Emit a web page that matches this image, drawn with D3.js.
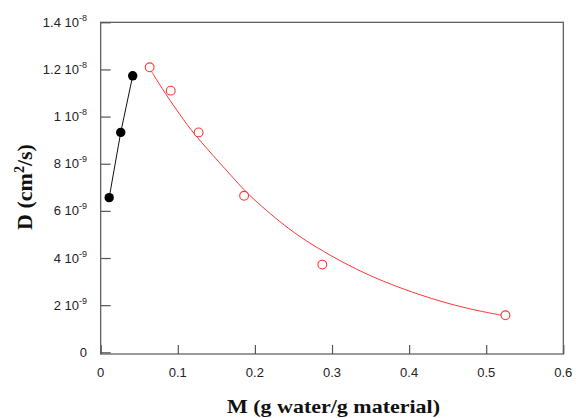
<!DOCTYPE html>
<html>
<head>
<meta charset="utf-8">
<script src="https://cdn.jsdelivr.net/npm/d3@7"></script>
<style>
  html, body { margin: 0; padding: 0; background: #fff; }
  svg { display: block; }
</style>
</head>
<body>
<svg id="chart" width="576" height="418"></svg>
<script>
// Diffusion coefficient vs. moisture content
const moistureLow = [0.011, 0.026, 0.0415];
const diffLow = [6.56e-9, 9.33e-9, 11.73e-9];

const moistureHigh = [0.0635, 0.0908, 0.127, 0.186, 0.2874, 0.525];
const diffHigh = [12.09e-9, 11.1e-9, 9.33e-9, 6.64e-9, 3.72e-9, 1.57e-9];

// Fitted curve through the high-moisture series
const fitM = [0.064, 0.0674, 0.0834, 0.1029, 0.1201, 0.1547, 0.1807, 0.1936, 0.2455, 0.2887, 0.332, 0.3752, 0.4314, 0.4747, 0.5179, 0.525];
const fitD = [12.0e-9, 11.84e-9, 10.99e-9, 10.07e-9, 9.29e-9, 8.02e-9, 7.08e-9, 6.62e-9, 5.15e-9, 4.27e-9, 3.5e-9, 2.88e-9, 2.24e-9, 1.86e-9, 1.58e-9, 1.55e-9];

const xTicks = [0, 0.1, 0.2, 0.3, 0.4, 0.5, 0.6];
const xTickLabels = ["0", "0.1", "0.2", "0.3", "0.4", "0.5", "0.6"];
const yTicks = [0, 2e-9, 4e-9, 6e-9, 8e-9, 1e-8, 1.2e-8, 1.4e-8];
const yTickMantissa = ["0", "2 10", "4 10", "6 10", "8 10", "1 10", "1.2 10", "1.4 10"];
const yTickExponent = ["", "-9", "-9", "-9", "-9", "-8", "-8", "-8"];

const svg = d3.select("#chart");
const plotLeft = 100.7, plotRight = 563.3, plotTop = 22.3, plotBottom = 354;

const x = d3.scaleLinear().domain([0, 0.6]).range([plotLeft, plotRight]);
const y = d3.scaleLinear().domain([0, 1.4e-8]).range([352.3, plotTop]);

const axisColor = "#555";

// frame
svg.append("rect")
  .attr("x", plotLeft).attr("y", plotTop)
  .attr("width", plotRight - plotLeft).attr("height", plotBottom - plotTop)
  .attr("fill", "none").attr("stroke", axisColor).attr("stroke-width", 1.2);

// x axis ticks (inward)
const gx = svg.append("g").attr("transform", `translate(0,${plotBottom})`)
  .call(d3.axisBottom(x).tickValues(xTicks).tickSizeInner(-9).tickSizeOuter(0).tickFormat(""));
gx.select(".domain").remove();
gx.selectAll(".tick line").attr("stroke", axisColor).attr("stroke-width", 1.2);

svg.append("g").selectAll("text").data(xTicks).join("text")
  .attr("x", d => x(d)).attr("y", 376.5)
  .attr("text-anchor", "middle")
  .attr("font-family", "Liberation Sans, Arial, sans-serif")
  .attr("font-size", 13).attr("fill", "#222")
  .text((d, i) => xTickLabels[i]);

// y axis ticks (inward)
const gy = svg.append("g").attr("transform", `translate(${plotLeft},0)`)
  .call(d3.axisLeft(y).tickValues(yTicks).tickSizeInner(-10).tickSizeOuter(0).tickFormat(""));
gy.select(".domain").remove();
gy.selectAll(".tick line").attr("stroke", axisColor).attr("stroke-width", 1.2);

const yl = svg.append("g").selectAll("text").data(yTicks).join("text")
  .attr("x", 87).attr("y", d => y(d) + 4.5)
  .attr("text-anchor", "end")
  .attr("font-family", "Liberation Sans, Arial, sans-serif")
  .attr("font-size", 13).attr("fill", "#222");
yl.append("tspan").text((d, i) => yTickMantissa[i]);
yl.append("tspan").attr("font-size", 9).attr("dy", -6)
  .text((d, i) => yTickExponent[i]);

// axis titles
svg.append("text")
  .attr("x", 333.5).attr("y", 412.5)
  .attr("text-anchor", "middle")
  .attr("font-family", "Liberation Serif, Times New Roman, serif")
  .attr("font-weight", "bold").attr("font-size", 19)
  .attr("textLength", 213).attr("lengthAdjust", "spacingAndGlyphs")
  .attr("fill", "#111")
  .text("M (g water/g material)");

const yt = svg.append("text")
  .attr("transform", "translate(32,187) rotate(-90)")
  .attr("text-anchor", "middle")
  .attr("font-family", "Liberation Serif, Times New Roman, serif")
  .attr("font-weight", "bold").attr("font-size", 22)
  .attr("fill", "#111");
yt.append("tspan").text("D (cm");
yt.append("tspan").attr("font-size", 14).attr("dy", -8).text("2");
yt.append("tspan").attr("dy", 8).text("/s)");

// low-moisture series
const line = d3.line().x(d => x(d[0])).y(d => y(d[1]));
svg.append("path")
  .datum(moistureLow.map((m, i) => [m, diffLow[i]]))
  .attr("d", line)
  .attr("fill", "none").attr("stroke", "#111").attr("stroke-width", 1);

svg.append("g").selectAll("circle")
  .data(moistureLow.map((m, i) => [m, diffLow[i]])).join("circle")
  .attr("cx", d => x(d[0])).attr("cy", d => y(d[1])).attr("r", 4.7)
  .attr("fill", "#000");

// high-moisture fitted curve
const fitLine = d3.line().x(d => x(d[0])).y(d => y(d[1])).curve(d3.curveBasis);
svg.append("path")
  .datum(fitM.map((m, i) => [m, fitD[i]]))
  .attr("d", fitLine)
  .attr("fill", "none").attr("stroke", "#ff3535").attr("stroke-width", 1);

svg.append("g").selectAll("circle")
  .data(moistureHigh.map((m, i) => [m, diffHigh[i]])).join("circle")
  .attr("cx", d => x(d[0])).attr("cy", d => y(d[1])).attr("r", 4.4)
  .attr("fill", "#fff").attr("stroke", "#ff3535").attr("stroke-width", 1.1);
</script>
</body>
</html>
